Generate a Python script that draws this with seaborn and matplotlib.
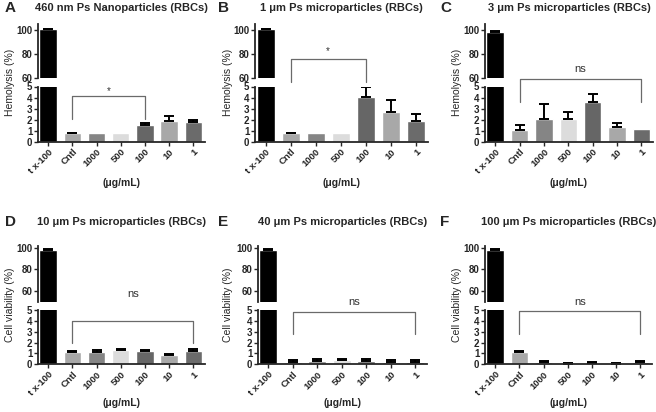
import matplotlib
matplotlib.use('Agg')
import matplotlib.pyplot as plt
import seaborn as sns
import numpy as np
import pandas as pd

sns.set_style('ticks')
plt.rcParams['font.family'] = ['Liberation Sans', 'DejaVu Sans']
plt.rcParams['axes.linewidth'] = 1.3

# ---- data ----
concentrations = ['t x-100', 'Cntl', '1000', '500', '100', '10', '1']
bar_colors = ['#000000', '#a8a8a8', '#858585', '#dcdcdc', '#666666', '#a8a8a8', '#6b6b6b']

titles = ['460 nm Ps Nanoparticles (RBCs)', '1 \u03bcm Ps microparticles (RBCs)',
          '3 \u03bcm Ps microparticles (RBCs)', '10 \u03bcm Ps microparticles (RBCs)',
          '40 \u03bcm Ps microparticles (RBCs)', '100 \u03bcm Ps microparticles (RBCs)']
letters = ['A', 'B', 'C', 'D', 'E', 'F']
ylabels = ['Hemolysis (%)'] * 3 + ['Cell viability (%)'] * 3

A_mean = [100.5, 0.78, 0.78, 0.78, 1.5, 1.86, 1.77]
A_err = [0.3, 0.05, 0, 0, 0.2, 0.45, 0.18]
B_mean = [100.5, 0.78, 0.8, 0.8, 4.04, 2.73, 1.88]
B_err = [0.2, 0.05, 0, 0, 0.9, 1.05, 0.66]
C_mean = [98.5, 1.08, 2.1, 2.1, 3.6, 1.32, 1.17]
C_err = [0.3, 0.47, 1.36, 0.55, 0.7, 0.38, 0]
D_mean = [98, 1.1, 1.17, 1.35, 1.18, 0.86, 1.2]
D_err = [1, 0.16, 0.15, 0.05, 0.12, 0.09, 0.2]
E_mean = [98, 0.2, 0.3, 0.4, 0.3, 0.2, 0.2]
E_err = [1, 0.15, 0.2, 0.05, 0.2, 0.15, 0.15]
F_mean = [98, 1.1, 0.2, 0.05, 0.1, 0.05, 0.2]
F_err = [1, 0.15, 0.12, 0.05, 0.08, 0.07, 0.12]

means = [A_mean, B_mean, C_mean, D_mean, E_mean, F_mean]
errs = [A_err, B_err, C_err, D_err, E_err, F_err]

# significance brackets: (from, to, bar height, end height, text, text y)
brackets = [(1, 4, 4.1, 2.05, '*', 4.6),
            (1, 4, 7.5, 5.4, '*', 8.2),
            (1, 6, 5.66, 3.58, 'ns', 6.6),
            (1, 6, 4.0, 2.0, 'ns', 6.5),
            (1, 6, 4.85, 2.75, 'ns', 5.7),
            (1, 6, 4.9, 2.75, 'ns', 5.7)]

# ---- layout (pixels) ----
W, H = 656, 412
fig = plt.figure(figsize=(W / 100, H / 100), dpi=100)


def px_axes(x0, x1, y0, y1):
    return fig.add_axes([x0 / W, 1 - y1 / H, (x1 - x0) / W, (y1 - y0) / H])


cols = [[(38, 205), (255, 428), (485, 653)], [(38, 205), (258, 427), (485, 652)]]
rows = [dict(top=(24, 78), bot=(86.5, 141.7), toplim=(60, 105), title_y=8, xlab_y=183),
        dict(top=(246, 301.5), bot=(310, 364.3), toplim=(50, 102), title_y=222, xlab_y=403)]
letter_x = [5, 218, 440]
ylab_x = [10, 228, 457]

for i in range(6):
    r, c = divmod(i, 3)
    x0, x1 = cols[r][c]
    row = rows[r]
    ax_top = px_axes(x0, x1, *row['top'])
    ax_bot = px_axes(x0, x1, *row['bot'])
    df = pd.DataFrame({'conc': concentrations, 'val': means[i]})
    x = np.arange(len(concentrations))
    m = np.array(means[i])
    e = np.array(errs[i])
    has_err = e > 0

    for ax in (ax_top, ax_bot):
        sns.barplot(data=df, x='conc', y='val', hue='conc', order=concentrations,
                    palette=bar_colors, legend=False, width=0.72, ax=ax,
                    errorbar=None, saturation=1)
        ax.errorbar(x[has_err], m[has_err], yerr=[np.zeros(has_err.sum()), e[has_err]],
                    fmt='none', ecolor='black', elinewidth=1.4, capsize=3.5, capthick=1.4)
        ax.set_xlim(-0.42, 6.48)
        ax.set_xlabel('')
        ax.set_ylabel('')
        for s in ('top', 'right'):
            ax.spines[s].set_visible(False)
        ax.tick_params(axis='both', length=3, width=1, labelsize=7, pad=1)

    ax_top.set_ylim(*row['toplim'])
    ax_top.set_yticks([60, 80, 100])
    ax_top.spines['bottom'].set_visible(False)
    ax_top.tick_params(axis='x', bottom=False, labelbottom=False)

    ax_bot.set_ylim(0, 5)
    ax_bot.set_yticks(range(6))
    ax_bot.set_xticks(x)
    ax_bot.set_xticklabels(concentrations, rotation=45, ha='right',
                           rotation_mode='anchor', fontsize=6.8, fontweight='bold')
    for lab in ax_top.get_yticklabels() + ax_bot.get_yticklabels():
        lab.set_fontweight('bold')

    # significance bracket
    a, b, yb, ye, txt, ty = brackets[i]
    ax_bot.plot([a, a, b, b], [ye, yb, yb, ye], color='#6a6a6a', lw=0.9, clip_on=False)
    ax_bot.text((a + b) / 2, ty, txt, ha='center', va='center',
                fontsize=8 if txt == 'ns' else 7, color='#333333', clip_on=False)

    xc = (x0 + x1) / 2
    fig.text(xc / W, 1 - row['title_y'] / H, titles[i], ha='center', va='center',
             fontsize=8, fontweight='bold')
    fig.text(letter_x[c] / W, 1 - row['title_y'] / H, letters[i], ha='left', va='center',
             fontsize=11, fontweight='bold')
    fig.text(xc / W, 1 - row['xlab_y'] / H, '(\u03bcg/mL)', ha='center', va='center',
             fontsize=7.5, fontweight='bold')
    yc = (row['top'][0] + row['bot'][1]) / 2
    fig.text(ylab_x[c] / W, 1 - yc / H, ylabels[i], ha='center', va='center',
             rotation=90, fontsize=7.5)

fig.savefig('out.png', dpi=100)
